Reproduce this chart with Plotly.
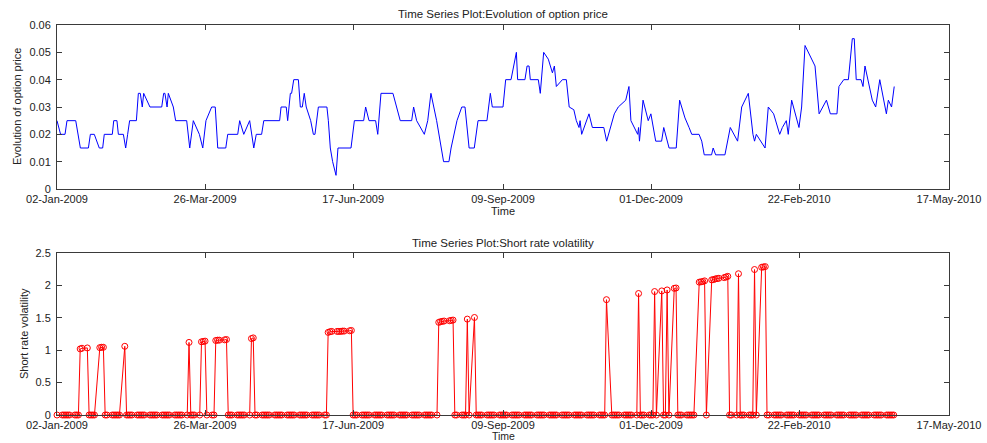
import pandas as pd
import plotly.graph_objects as go

# ---------------- data ----------------
start_date = "2009-01-02"
end_date = "2010-04-16"

# Option price: breakpoints (days after 02-Jan-2009) and values
price_days = [0, 2, 4.5, 5.6, 10.5, 11.6, 13.1, 17.6, 18.7, 20.9, 23.7, 25.6, 26.5, 31, 31.8, 33.6,
              34.4, 37.2, 38.5, 39.6, 40.7, 44.5, 45.6, 46.7, 47.8, 48.6, 52.1, 58.7, 59.8, 60.5,
              61.7, 62.4, 65.2, 66.5, 72.7, 74.4, 76.4, 79.8, 81.7, 83.5, 86.7, 88.7, 90.1, 94.6,
              95.7, 101.3, 102.4, 104.7, 108, 110.3, 111.7, 114.7, 115.9, 124.8, 125.6, 128.5,
              129.3, 130.8, 131.5, 132.7, 135.3, 136.4, 137.5, 138.6, 139.7, 142.2, 143.7, 144.6,
              146.5, 151.3, 152.1, 153.2, 154.5, 156.4, 157.5, 164.8, 166.7, 171.9, 173, 174.9,
              178.6, 179.8, 181.6, 188.3, 192.4, 198.8, 199.9, 201.6, 205.9, 207.8, 209.6, 212.8,
              215.2, 216.7, 219.7, 220.9, 224.2, 226.9, 228.7, 231, 233.9, 236, 241, 242.9, 244,
              250, 251.5, 254.5, 256, 257.5, 258.2, 262.3, 263.5, 264.6, 265.3, 269.8, 270.9,
              272.8, 275.4, 277.7, 278.8, 279.9, 283.3, 285.5, 287.1, 289.7, 291.1, 292.6, 293.2,
              294.1, 298.2, 300.1, 306.5, 308.1, 312.4, 314.6, 318.8, 320.6, 321.7, 325.5, 326,
              326.5, 328.5, 331.4, 332.9, 335.6, 338.9, 340.1, 343.1, 347.1, 349, 352, 354.3,
              355.8, 359.9, 361.4, 362.8, 366.9, 367.8, 369.2, 374.4, 375.9, 377.4, 381.5, 383.8,
              387.5, 390.1, 391, 392, 396.9, 398.7, 401.7, 405.1, 406.6, 408.8, 409.9, 411.8,
              415.9, 417.4, 419.3, 421.2, 424.9, 427.2, 429, 431.3, 433.5, 437.2, 438.3, 441,
              443.6, 445.8, 446.9, 448, 450.7, 451.8, 452.9, 457, 458.9, 461.2, 464.9, 466,
              467.8, 469.3]
price_vals = [0.025, 0.02, 0.02, 0.025, 0.025, 0.02, 0.015, 0.015, 0.02, 0.02, 0.015, 0.015, 0.02,
              0.02, 0.025, 0.025, 0.02, 0.02, 0.015, 0.02, 0.025, 0.025, 0.035, 0.035, 0.03, 0.035,
              0.03, 0.03, 0.035, 0.035, 0.03, 0.035, 0.03, 0.025, 0.025, 0.015, 0.025, 0.02, 0.015,
              0.025, 0.03, 0.03, 0.015, 0.015, 0.02, 0.02, 0.025, 0.02, 0.025, 0.015, 0.02, 0.02,
              0.025, 0.025, 0.03, 0.03, 0.025, 0.035, 0.035, 0.04, 0.04, 0.03, 0.03, 0.035, 0.03,
              0.025, 0.02, 0.02, 0.03, 0.03, 0.025, 0.015, 0.01, 0.005, 0.015, 0.015, 0.025, 0.025,
              0.03, 0.025, 0.025, 0.02, 0.035, 0.035, 0.025, 0.025, 0.03, 0.025, 0.02, 0.025, 0.035,
              0.025, 0.015, 0.01, 0.01, 0.015, 0.025, 0.03, 0.03, 0.015, 0.015, 0.025, 0.025, 0.035,
              0.03, 0.03, 0.04, 0.04, 0.045, 0.05, 0.04, 0.04, 0.045, 0.045, 0.04, 0.04, 0.035,
              0.05, 0.0475, 0.0425, 0.045, 0.0375, 0.04, 0.04, 0.03, 0.029, 0.025, 0.0225, 0.025,
              0.02, 0.0275, 0.0225, 0.0225, 0.0175, 0.0275, 0.03, 0.0325, 0.0375, 0.025, 0.02,
              0.0225, 0.0175, 0.0325, 0.025, 0.0275, 0.0175, 0.0175, 0.0225, 0.015, 0.015, 0.0325,
              0.026, 0.0225, 0.02, 0.02, 0.0175, 0.0125, 0.0125, 0.015, 0.0125, 0.0125, 0.0175,
              0.0225, 0.0175, 0.03, 0.035, 0.02, 0.0175, 0.02, 0.015, 0.03, 0.0275, 0.02, 0.0225,
              0.025, 0.02, 0.0325, 0.0225, 0.03, 0.0525, 0.05, 0.045, 0.0275, 0.0295, 0.0325,
              0.0275, 0.0275, 0.0375, 0.04, 0.04, 0.055, 0.055, 0.04, 0.04, 0.0375, 0.045, 0.0325,
              0.03, 0.04, 0.0275, 0.0325, 0.03, 0.0375]

# Short rate volatility: non-zero days (all other trading days read as 0)
vol_dates = ["2009-01-15", "2009-01-16", "2009-01-19",
             "2009-01-26", "2009-01-27", "2009-01-28",
             "2009-02-09", "2009-03-17",
             "2009-03-24", "2009-03-25", "2009-03-26",
             "2009-04-01", "2009-04-02", "2009-04-03", "2009-04-06", "2009-04-07",
             "2009-04-21", "2009-04-22",
             "2009-06-03", "2009-06-04", "2009-06-05", "2009-06-08", "2009-06-09",
             "2009-06-10", "2009-06-11", "2009-06-12", "2009-06-15", "2009-06-16",
             "2009-08-04", "2009-08-05", "2009-08-06", "2009-08-07", "2009-08-10",
             "2009-08-11", "2009-08-12",
             "2009-08-20", "2009-08-24",
             "2009-11-06", "2009-11-24",
             "2009-12-03", "2009-12-07", "2009-12-10", "2009-12-14", "2009-12-15",
             "2009-12-28", "2009-12-29", "2009-12-30", "2009-12-31", "2010-01-04",
             "2010-01-05", "2010-01-06", "2010-01-07", "2010-01-08", "2010-01-11",
             "2010-01-12", "2010-01-13",
             "2010-01-19", "2010-01-28", "2010-02-01", "2010-02-02", "2010-02-03"]
vol_vals = [1.02, 1.03, 1.035,
            1.04, 1.045, 1.045,
            1.06, 1.12,
            1.13, 1.135, 1.14,
            1.15, 1.155, 1.155, 1.16, 1.165,
            1.18, 1.19,
            1.275, 1.285, 1.29, 1.29, 1.29, 1.29, 1.295, 1.295, 1.30, 1.305,
            1.43, 1.44, 1.445, 1.45, 1.455, 1.46, 1.465,
            1.48, 1.505,
            1.78, 1.875,
            1.905, 1.915, 1.93, 1.955, 1.96,
            2.05, 2.055, 2.06, 2.07, 2.085, 2.09, 2.10, 2.105, 2.11, 2.12, 2.13, 2.14,
            2.18, 2.245, 2.28, 2.285, 2.29]

x_tick_dates = ["2009-01-02", "2009-03-26", "2009-06-17", "2009-09-09",
                "2009-12-01", "2010-02-22", "2010-05-17"]
x_tick_text = ["02-Jan-2009", "26-Mar-2009", "17-Jun-2009", "09-Sep-2009",
               "01-Dec-2009", "22-Feb-2010", "17-May-2010"]
y1_ticks = [0, 0.01, 0.02, 0.03, 0.04, 0.05, 0.06]
y1_text = ["0", "0.01", "0.02", "0.03", "0.04", "0.05", "0.06"]
y2_ticks = [0, 0.5, 1, 1.5, 2, 2.5]
y2_text = ["0", "0.5", "1", "1.5", "2", "2.5"]

# ---------------- build ----------------
t0 = pd.Timestamp(start_date)
price_x = [t0 + pd.Timedelta(days=d) for d in price_days]

trade_days = pd.bdate_range(start_date, end_date)
vol_series = pd.Series(0.0, index=trade_days)
for d, v in zip(vol_dates, vol_vals):
    vol_series[pd.Timestamp(d)] = v

fig = go.Figure()
fig.add_trace(go.Scatter(x=price_x, y=price_vals, mode="lines",
                         line=dict(color="#0000ff", width=1), xaxis="x", yaxis="y",
                         showlegend=False))
fig.add_trace(go.Scatter(x=vol_series.index, y=vol_series.values, mode="lines+markers",
                         line=dict(color="#ff0000", width=1),
                         marker=dict(symbol="circle-open", size=6, color="#ff0000",
                                     line=dict(width=1)),
                         cliponaxis=False, xaxis="x2", yaxis="y2", showlegend=False))

txtcol = "#222222"
font = dict(family="Liberation Sans, Arial, sans-serif", size=11, color=txtcol)
axcol = "#3a3a3a"
xdom = [57 / 987, 949 / 987]
xcommon = dict(type="date", range=[x_tick_dates[0], x_tick_dates[-1]],
               tickmode="array", tickvals=x_tick_dates, ticktext=x_tick_text,
               ticks="inside", ticklen=5, tickcolor=axcol, showline=True, linecolor=axcol,
               linewidth=1, mirror="allticks", showgrid=False, zeroline=False,
               tickfont=font, domain=xdom, ticklabelstandoff=0, automargin=False)
ycommon = dict(ticks="inside", ticklen=5, tickcolor=axcol, showline=True, linecolor=axcol,
               linewidth=1, mirror="allticks", showgrid=False, zeroline=False,
               tickfont=font, tickmode="array", ticklabelstandoff=3, automargin=False)


def label(text, px, py, size=11, angle=0, yanchor="middle"):
    return dict(text=text, x=px / 987, y=1 - py / 443, xref="paper", yref="paper",
                xanchor="center", yanchor=yanchor, textangle=angle, showarrow=False,
                borderpad=0, font=dict(size=size, color=txtcol))


fig.update_layout(
    width=987, height=443,
    margin=dict(l=0, r=0, t=0, b=0, pad=0, autoexpand=False),
    paper_bgcolor="white", plot_bgcolor="white",
    font=font,
    xaxis=dict(**xcommon, anchor="y"),
    yaxis=dict(**ycommon, range=[0, 0.06], tickvals=y1_ticks, ticktext=y1_text,
               domain=[1 - 189 / 443, 1 - 25 / 443], anchor="x"),
    xaxis2=dict(**xcommon, anchor="y2"),
    yaxis2=dict(**ycommon, range=[0, 2.5], tickvals=y2_ticks, ticktext=y2_text,
                domain=[1 - 415 / 443, 1 - 253 / 443], anchor="x2"),
    annotations=[
        label("Time Series Plot:Evolution of option price", 503, 14, size=11.5),
        label("Time", 503, 211),
        label("Evolution of option price", 17, 107, angle=-90),
        label("Time Series Plot:Short rate volatility", 503, 243, size=11.5),
        label("Time", 503, 443, size=10.5, yanchor="bottom"),
        label("Short rate volatility", 24, 334, angle=-90),
    ],
)

fig.write_html("out.html")
